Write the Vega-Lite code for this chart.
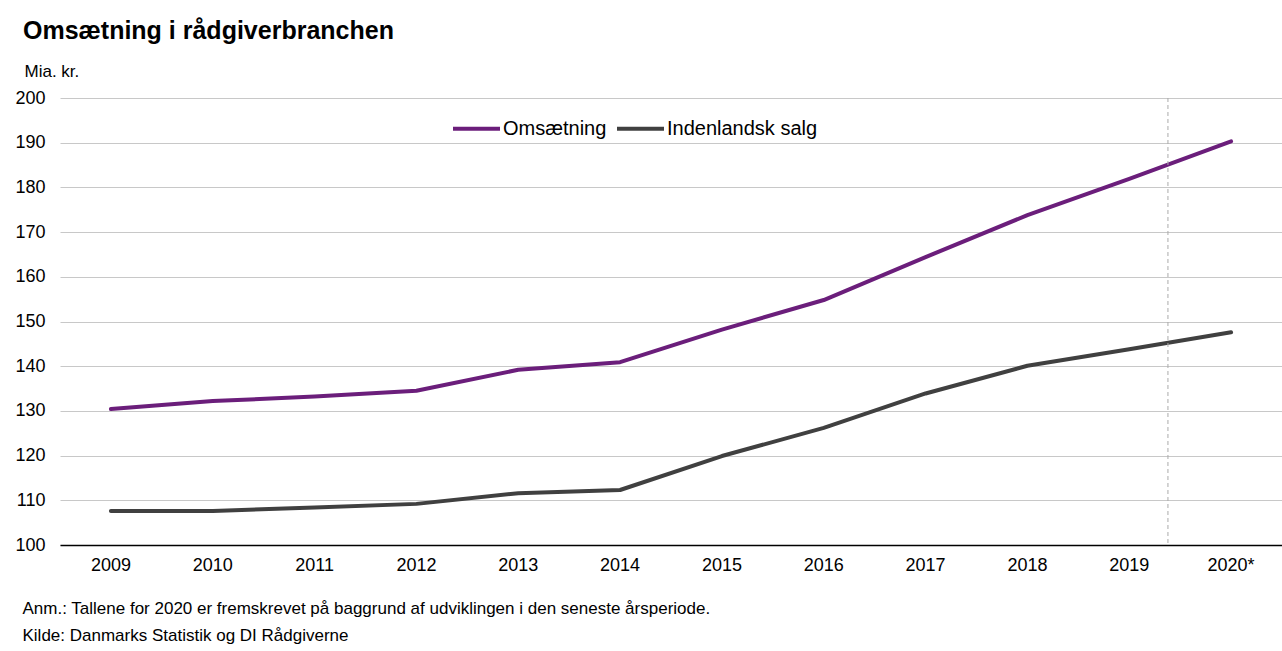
{
  "$schema": "https://vega.github.io/schema/vega-lite/v6.json",
  "width": 1222,
  "height": 447,
  "autosize": {"type": "none"},
  "padding": {"left": 60, "top": 98, "right": 0, "bottom": 106},
  "background": "white",
  "config": {"view": {"stroke": null}, "font": "Liberation Sans"},
  "title": {
    "text": "Omsætning i rådgiverbranchen",
    "anchor": "start",
    "frame": "group",
    "dx": -37,
    "dy": 27,
    "offset": 25,
    "baseline": "alphabetic",
    "fontSize": 25,
    "fontWeight": "bold",
    "font": "Liberation Sans",
    "color": "#000000"
  },
  "datasets": {
    "main": [
      {"year": "2009", "series": "Omsætning", "value": 130.4},
      {"year": "2010", "series": "Omsætning", "value": 132.2},
      {"year": "2011", "series": "Omsætning", "value": 133.2},
      {"year": "2012", "series": "Omsætning", "value": 134.5},
      {"year": "2013", "series": "Omsætning", "value": 139.2},
      {"year": "2014", "series": "Omsætning", "value": 140.9},
      {"year": "2015", "series": "Omsætning", "value": 148.2},
      {"year": "2016", "series": "Omsætning", "value": 154.8},
      {"year": "2017", "series": "Omsætning", "value": 164.4},
      {"year": "2018", "series": "Omsætning", "value": 173.8},
      {"year": "2019", "series": "Omsætning", "value": 181.9},
      {"year": "2020*", "series": "Omsætning", "value": 190.3},
      {"year": "2009", "series": "Indenlandsk salg", "value": 107.6},
      {"year": "2010", "series": "Indenlandsk salg", "value": 107.6},
      {"year": "2011", "series": "Indenlandsk salg", "value": 108.4},
      {"year": "2012", "series": "Indenlandsk salg", "value": 109.2},
      {"year": "2013", "series": "Indenlandsk salg", "value": 111.6},
      {"year": "2014", "series": "Indenlandsk salg", "value": 112.3},
      {"year": "2015", "series": "Indenlandsk salg", "value": 119.9},
      {"year": "2016", "series": "Indenlandsk salg", "value": 126.2},
      {"year": "2017", "series": "Indenlandsk salg", "value": 133.9},
      {"year": "2018", "series": "Indenlandsk salg", "value": 140.1},
      {"year": "2019", "series": "Indenlandsk salg", "value": 143.8},
      {"year": "2020*", "series": "Indenlandsk salg", "value": 147.6}
    ],
    "marker": [{"year": "2019"}]
  },
  "layer": [
    {
      "data": {"name": "main"},
      "mark": {"type": "line", "strokeWidth": 4, "strokeCap": "round", "strokeJoin": "round"},
      "encoding": {
        "x": {
          "field": "year",
          "type": "ordinal",
          "sort": null,
          "scale": {
            "type": "band",
            "paddingInner": 0,
            "paddingOuter": 0,
            "domain": ["2009", "2010", "2011", "2012", "2013", "2014", "2015", "2016", "2017", "2018", "2019", "2020*"]
          },
          "axis": {
            "title": ["Anm.: Tallene  for 2020 er fremskrevet på baggrund af udviklingen  i den seneste årsperiode.", "Kilde: Danmarks Statistik og DI Rådgiverne"],
            "titleAnchor": "start",
            "titleAlign": "left",
            "titleBaseline": "alphabetic",
            "titleX": -38,
            "titleY": 68,
            "titleFontSize": 17,
            "titleFontWeight": "normal",
            "titleLineHeight": 27,
            "titleColor": "#000000",
            "titleFont": "Liberation Sans",
            "labelAngle": 0,
            "labelFontSize": 18,
            "labelFont": "Liberation Sans",
            "labelColor": "#000000",
            "labelPadding": 11,
            "ticks": false,
            "grid": false,
            "domainColor": "#000000",
            "domainWidth": 1.5
          }
        },
        "y": {
          "field": "value",
          "type": "quantitative",
          "scale": {"domain": [100, 200], "nice": false, "zero": false},
          "axis": {
            "values": [100, 110, 120, 130, 140, 150, 160, 170, 180, 190, 200],
            "title": "Mia. kr.",
            "titleAngle": 0,
            "titleAlign": "left",
            "titleBaseline": "alphabetic",
            "titleX": -36,
            "titleY": -22,
            "titleFontSize": 17,
            "titleFontWeight": "normal",
            "titleColor": "#000000",
            "titleFont": "Liberation Sans",
            "labelFontSize": 18,
            "labelFont": "Liberation Sans",
            "labelColor": "#000000",
            "labelPadding": 15,
            "ticks": false,
            "domain": false,
            "grid": true,
            "gridColor": "#c8c8c8",
            "gridWidth": 1
          }
        },
        "color": {
          "field": "series",
          "type": "nominal",
          "scale": {"domain": ["Omsætning", "Indenlandsk salg"], "range": ["#6b1e7b", "#404040"]},
          "legend": {
            "title": null,
            "orient": "none",
            "legendX": 391,
            "legendY": 5,
            "direction": "horizontal",
            "symbolType": "stroke",
            "symbolSize": 2209,
            "symbolStrokeWidth": 4,
            "labelFontSize": 20,
            "labelFont": "Liberation Sans",
            "labelColor": "#000000",
            "labelOffset": 1,
            "columnPadding": 2
          }
        }
      }
    },
    {
      "data": {"name": "marker"},
      "mark": {"type": "rule", "strokeDash": [4, 3], "color": "#aaaaaa", "strokeWidth": 1},
      "encoding": {
        "x": {"field": "year", "type": "ordinal", "bandPosition": 0.88}
      }
    }
  ]
}
